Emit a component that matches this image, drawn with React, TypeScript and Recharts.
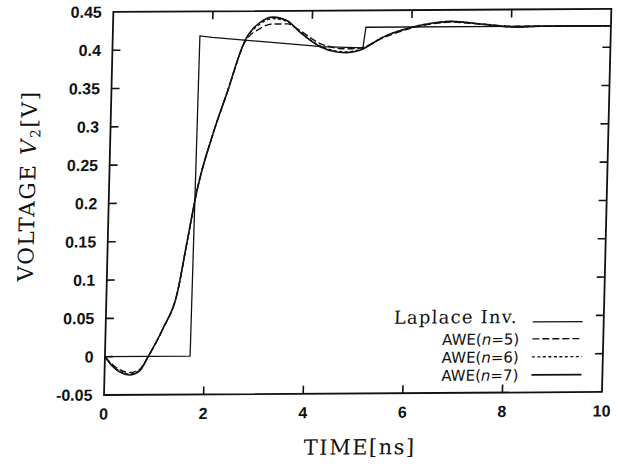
import { Label, Line, LineChart, ReferenceArea, XAxis, YAxis } from 'recharts';

// Laplace inversion (reference waveform)
const laplaceT = [0, 1.71, 1.75, 2.0, 3.2, 4.2, 5.03, 5.08, 10];
const laplaceV = [0, 0, 0.418, 0.416, 0.409, 0.403, 0.401, 0.428, 0.428];

// AWE approximations, shared time points
const aweT = [0, 0.15, 0.3, 0.5, 0.7, 0.87, 1.15, 1.42, 1.59, 1.77, 2.06, 2.32, 2.66, 2.95, 3.21, 3.5, 3.76, 4.17, 4.51, 4.71, 4.97, 5.43, 5.96, 6.43, 6.77, 7.43, 8.11, 8.57, 9.2, 10];
const awe5 = [0, -0.01, -0.017, -0.021, -0.017, 0, 0.036, 0.082, 0.148, 0.217, 0.29, 0.343, 0.41, 0.427, 0.433, 0.433, 0.424, 0.407, 0.401, 0.4, 0.401, 0.414, 0.426, 0.432, 0.434, 0.431, 0.428, 0.428, 0.428, 0.428];
const awe6 = [0, -0.011, -0.019, -0.023, -0.018, 0, 0.036, 0.082, 0.148, 0.217, 0.29, 0.343, 0.411, 0.433, 0.44, 0.436, 0.422, 0.404, 0.397, 0.396, 0.399, 0.415, 0.427, 0.433, 0.435, 0.431, 0.427, 0.428, 0.428, 0.428];
const awe7 = [0, -0.012, -0.02, -0.024, -0.019, 0, 0.036, 0.082, 0.148, 0.217, 0.29, 0.343, 0.412, 0.435, 0.442, 0.437, 0.422, 0.403, 0.396, 0.395, 0.398, 0.415, 0.427, 0.433, 0.435, 0.431, 0.427, 0.428, 0.428, 0.428];

const xTicks = [0, 2, 4, 6, 8, 10];
const yTicks = [-0.05, 0, 0.05, 0.1, 0.15, 0.2, 0.25, 0.3, 0.35, 0.4, 0.45];
const X_MIN = 0;
const X_MAX = 10;
const Y_MIN = -0.05;
const Y_MAX = 0.45;

const INK = '#111';
const SERIF = '"DejaVu Serif", serif';
const SANS = '"Liberation Sans", Arial, sans-serif';
const TICK_LEN = 8;
const X_GAP = 13;
const Y_GAP = 11.5;

// chart box
const W = 619;
const H = 466;
const M = { top: 11, right: 16, bottom: 0, left: 0 };
const Y_AXIS_W = 104;
const X_AXIS_H = 71;
const PLOT = {
  left: M.left + Y_AXIS_W,
  top: M.top + 1,
  right: W - M.right - 1,
  bottom: H - M.bottom - X_AXIS_H,
};

const toPoints = (ts: number[], vs: number[]) => ts.map((t, i) => ({ t, v: vs[i] }));

const series = [
  { key: 'lap', n: 0, data: toPoints(laplaceT, laplaceV), curve: 'linear', dash: undefined, width: 1.3 },
  { key: 'a5', n: 5, data: toPoints(aweT, awe5), curve: 'monotone', dash: '7 3', width: 1.4 },
  { key: 'a6', n: 6, data: toPoints(aweT, awe6), curve: 'monotone', dash: '3 2.5', width: 1.4 },
  { key: 'a7', n: 7, data: toPoints(aweT, awe7), curve: 'monotone', dash: undefined, width: 1.6 },
];

const textProps = { fontFamily: SANS, fontSize: 16, fontWeight: 700, fill: INK };

function LeftTick({ x, y, payload }: any) {
  return <text x={x} y={y} dy="0.35em" textAnchor="end" {...textProps}>{payload.value}</text>;
}

function BottomTick({ x, y, payload }: any) {
  return <text x={x} y={y} dy="0.72em" textAnchor="middle" {...textProps}>{payload.value}</text>;
}

function YLabel({ viewBox }: any) {
  const cx = 30;
  const cy = viewBox.y + viewBox.height / 2 - 18;
  return (
    <text
      x={cx}
      y={cy}
      transform={`rotate(-90, ${cx}, ${cy})`}
      textAnchor="middle"
      fontFamily={SERIF}
      fontSize={21.5}
      letterSpacing={1.6}
      fill={INK}
    >
      VOLTAGE <tspan fontStyle="italic">V</tspan>
      <tspan fontSize={14} dy={4}>2</tspan>
      <tspan dy={-4}>[V]</tspan>
    </text>
  );
}

function XLabel({ viewBox }: any) {
  return (
    <text
      x={viewBox.x + viewBox.width / 2 + 8}
      y={viewBox.y + 61}
      textAnchor="middle"
      fontFamily={SERIF}
      fontSize={21}
      letterSpacing={1.5}
      fill={INK}
    >
      TIME[ns]
    </text>
  );
}

// inward tick marks on all four sides of the frame
function FrameTicks() {
  const px = (t: number) => PLOT.left + ((t - X_MIN) / (X_MAX - X_MIN)) * (PLOT.right - PLOT.left);
  const py = (v: number) => PLOT.bottom - ((v - Y_MIN) / (Y_MAX - Y_MIN)) * (PLOT.bottom - PLOT.top);
  const innerX = xTicks.filter((t) => t > X_MIN && t < X_MAX);
  const innerY = yTicks.filter((v) => v > Y_MIN && v < Y_MAX);
  return (
    <g stroke={INK} strokeWidth={1.6}>
      {innerX.map((t) => (
        <g key={`x${t}`}>
          <line x1={px(t)} x2={px(t)} y1={PLOT.bottom} y2={PLOT.bottom - TICK_LEN} />
          <line x1={px(t)} x2={px(t)} y1={PLOT.top} y2={PLOT.top + TICK_LEN} />
        </g>
      ))}
      {innerY.map((v) => (
        <g key={`y${v}`}>
          <line x1={PLOT.left} x2={PLOT.left + TICK_LEN} y1={py(v)} y2={py(v)} />
          <line x1={PLOT.right} x2={PLOT.right - TICK_LEN} y1={py(v)} y2={py(v)} />
        </g>
      ))}
    </g>
  );
}

function LegendBox() {
  const rows = [
    { label: 'Laplace', y: 324.5, s: series[0] },
    { label: 'awe', y: 341.5, s: series[1] },
    { label: 'awe', y: 359.5, s: series[2] },
    { label: 'awe', y: 377.5, s: series[3] },
  ];
  return (
    <g>
      {rows.map((r) => (
        <g key={r.s.key}>
          {r.label === 'Laplace' ? (
            <text x={516} y={r.y + 1} textAnchor="end" fontFamily={SERIF} fontSize={18} letterSpacing={1.2} fill={INK}>
              Laplace Inv.
            </text>
          ) : (
            <text x={518} y={r.y + 5.5} textAnchor="end" fontFamily='"DejaVu Sans", sans-serif' fontSize={15} fill={INK}>
              AWE(<tspan fontStyle="italic">n</tspan>={r.s.n})
            </text>
          )}
          <line x1={531} x2={581} y1={r.y} y2={r.y} stroke={INK} strokeWidth={r.s.width} strokeDasharray={r.s.dash} />
        </g>
      ))}
    </g>
  );
}

export default function App() {
  return (
    <div
      style={{
        position: 'absolute',
        left: 0,
        top: 0,
        width: W,
        height: H,
        background: '#fff',
        transformOrigin: '104px 395px',
        transform: 'rotate(-0.35deg) skewX(-1.75deg)',
      }}
    >
      <LineChart width={W} height={H} margin={M}>
        <XAxis
          dataKey="t"
          type="number"
          domain={[X_MIN, X_MAX]}
          ticks={xTicks}
          height={X_AXIS_H}
          tickSize={0}
          tickMargin={X_GAP}
          tick={BottomTick}
          axisLine={false}
          tickLine={false}
          allowDataOverflow
        >
          <Label content={XLabel} />
        </XAxis>
        <XAxis xAxisId="top" orientation="top" type="number" domain={[X_MIN, X_MAX]} height={1} tick={false} axisLine={false} tickLine={false} />
        <YAxis
          type="number"
          domain={[Y_MIN, Y_MAX]}
          ticks={yTicks}
          width={Y_AXIS_W}
          tickSize={0}
          tickMargin={Y_GAP}
          tick={LeftTick}
          axisLine={false}
          tickLine={false}
          allowDataOverflow
        >
          <Label content={YLabel} />
        </YAxis>
        <YAxis yAxisId="right" orientation="right" type="number" domain={[Y_MIN, Y_MAX]} width={1} tick={false} axisLine={false} tickLine={false} />

        <ReferenceArea
          x1={X_MIN}
          x2={X_MAX}
          y1={Y_MIN}
          y2={Y_MAX}
          fill="none"
          fillOpacity={0}
          stroke={INK}
          strokeWidth={1.8}
          ifOverflow="visible"
        />

        {series.map((s) => (
          <Line
            key={s.key}
            data={s.data}
            dataKey="v"
            type={s.curve as any}
            stroke={INK}
            strokeWidth={s.width}
            strokeDasharray={s.dash}
            dot={false}
            activeDot={false}
            isAnimationActive={false}
          />
        ))}
      </LineChart>
      <svg width={W} height={H} style={{ position: 'absolute', left: 0, top: 0, pointerEvents: 'none' }}>
        <FrameTicks />
        <LegendBox />
      </svg>
    </div>
  );
}
